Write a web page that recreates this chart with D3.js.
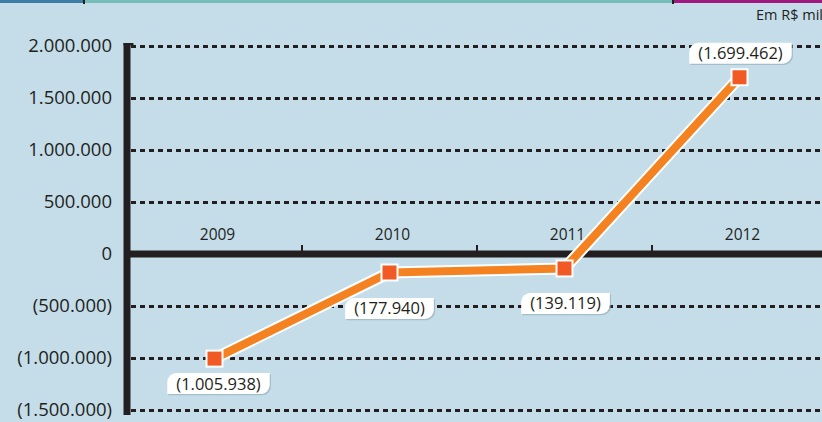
<!DOCTYPE html>
<html>
<head>
<meta charset="utf-8">
<script src="https://cdn.jsdelivr.net/npm/d3@7"></script>
<style>
  html, body { margin: 0; padding: 0; background: #c4dde9; }
  svg { display: block; }
  text { font-family: "Open Sans", sans-serif; fill: #231f20; }
</style>
</head>
<body>
<svg id="chart" width="822" height="422"></svg>
<script>
const years = ["2009", "2010", "2011", "2012"];
const values = [-1005938, -177940, -139119, 1699462];
const valueLabels = ["(1.005.938)", "(177.940)", "(139.119)", "(1.699.462)"];
const tickValues = [2000000, 1500000, 1000000, 500000, 0, -500000, -1000000, -1500000];
const tickLabels = ["2.000.000", "1.500.000", "1.000.000", "500.000", "0", "(500.000)", "(1.000.000)", "(1.500.000)"];
const unitLabel = "Em R$ mil";

const W = 822, H = 422;
const svg = d3.select("#chart");
const ink = "#231f20";

// top colour strips
const strips = [
  { x0: 0, x1: 84, c: "#3d7ea6" },
  { x0: 84, x1: 673, c: "#74bdb8" },
  { x0: 673, x1: 822, c: "#a0197f" }
];
svg.selectAll("rect.strip").data(strips).join("rect")
  .attr("x", d => d.x0).attr("y", 0).attr("width", d => d.x1 - d.x0).attr("height", 3)
  .attr("fill", d => d.c);
svg.selectAll("rect.sep").data([84, 673]).join("rect")
  .attr("x", d => d - 1).attr("y", 0).attr("width", 2).attr("height", 4).attr("fill", ink);

svg.append("text").attr("x", 823).attr("y", 20).attr("text-anchor", "end")
  .style("font-size", "14.5px").text(unitLabel);

const y = d3.scaleLinear().domain([-1500000, 2000000]).range([410, 46]);
const x = d3.scaleBand().domain(years).range([127, 827]).padding(0);

// dashed gridlines
const gridTicks = tickValues.filter(v => v !== 0);
svg.append("g")
  .attr("transform", "translate(131,0)")
  .call(d3.axisRight(y).tickValues(gridTicks).tickSize(W - 131).tickFormat(""))
  .call(g => g.select(".domain").remove())
  .call(g => g.selectAll("line").attr("stroke", ink).attr("stroke-width", 2.8).attr("stroke-dasharray", "5,4"));

// y tick labels
svg.append("g")
  .attr("transform", "translate(112,0)")
  .call(d3.axisLeft(y).tickValues(tickValues).tickSize(0).tickPadding(0)
    .tickFormat((d, i) => tickLabels[i]))
  .call(g => g.select(".domain").remove())
  .call(g => g.selectAll("text").style("font-size", "18.5px").attr("fill", ink)
    .attr("font-family", "Open Sans, sans-serif"));

// zero line
svg.append("rect").attr("x", 124).attr("y", y(0) - 3.5).attr("width", W - 124).attr("height", 7).attr("fill", ink);
// vertical axis bar
svg.append("rect").attr("x", 123.5).attr("y", y(2000000) - 3).attr("width", 7).attr("height", 415 - (y(2000000) - 3)).attr("fill", ink);
svg.append("rect").attr("x", 123.5).attr("y", y(2000000) - 3).attr("width", 10).attr("height", 2.5).attr("fill", ink);

// category boundary ticks on zero line
svg.selectAll("rect.ctick").data(years.slice(1)).join("rect")
  .attr("x", d => x(d) - 1).attr("y", y(0) - 9).attr("width", 2).attr("height", 8).attr("fill", ink);

// category labels
svg.selectAll("text.cat").data(years).join("text")
  .attr("x", d => x(d) + x.bandwidth() / 2 + 3).attr("y", y(0) - 14)
  .attr("text-anchor", "middle").style("font-size", "15.5px").text(d => d);

// line
const pts = years.map((yr, i) => [x(yr) + x.bandwidth() / 2, y(values[i])]);
const line = d3.line();
svg.append("path").attr("d", line(pts)).attr("fill", "none").attr("stroke", "#ffffff")
  .attr("stroke-width", 12).attr("stroke-linejoin", "round");
svg.append("path").attr("d", line(pts)).attr("fill", "none").attr("stroke", "#f58220")
  .attr("stroke-width", 8).attr("stroke-linejoin", "round");

// markers
svg.selectAll("rect.mk").data(pts).join("rect")
  .attr("x", d => d[0] - 8).attr("y", d => d[1] - 8).attr("width", 16).attr("height", 16)
  .attr("fill", "#f15a24").attr("stroke", "#ffffff").attr("stroke-width", 2);

// value labels with leaf-shaped boxes
const labelOffsets = [[4, 25], [0, 36], [1, 35], [1, -24]];
function leaf(x0, y0, w, h, r) {
  return `M${x0 + r},${y0} H${x0 + w} V${y0 + h - r} A${r},${r} 0 0 1 ${x0 + w - r},${y0 + h} H${x0} V${y0 + r} A${r},${r} 0 0 1 ${x0 + r},${y0} Z`;
}
pts.forEach((p, i) => {
  const cx = p[0] + labelOffsets[i][0], cy = p[1] + labelOffsets[i][1];
  const g = svg.append("g");
  const t = g.append("text").attr("x", cx).attr("y", cy).attr("text-anchor", "middle")
    .attr("dy", "0.36em").style("font-size", "16.5px").text(valueLabels[i]);
  const tw = t.node().getComputedTextLength();
  const w = tw + 18, h = 21;
  g.insert("path", "text").attr("d", leaf(cx - w / 2 + 1.2, cy - h / 2 + 1.2, w, h, 9)).attr("fill", "#8fa8b4").attr("opacity", 0.6);
  g.insert("path", "text").attr("d", leaf(cx - w / 2, cy - h / 2, w, h, 9)).attr("fill", "#ffffff");
});
</script>
</body>
</html>
